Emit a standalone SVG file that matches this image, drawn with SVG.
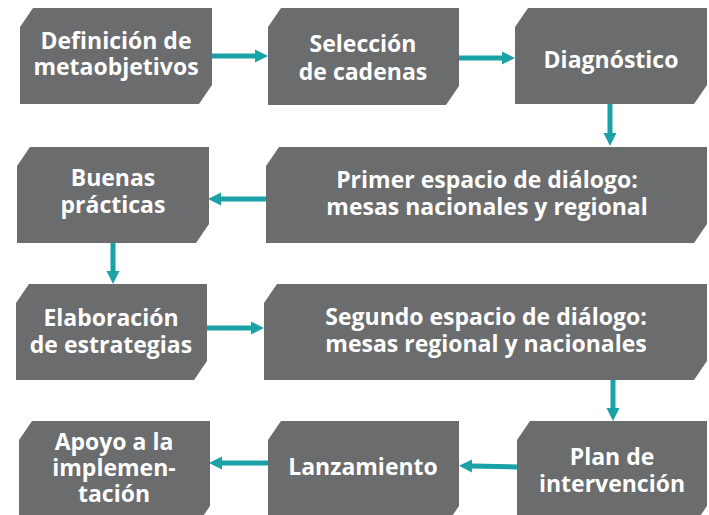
<svg xmlns="http://www.w3.org/2000/svg" width="709" height="515" viewBox="0 0 709 515">
<defs>
<style>
.box{fill:#6b6c6e}
.t{font-family:"Open Sans","Liberation Sans",sans-serif;font-weight:700;font-size:23px;fill:#ffffff;text-anchor:middle}
.c{stroke:#1ba2a6;stroke-width:5;fill:none;marker-end:url(#ah)}
</style>
<marker id="ah" markerUnits="userSpaceOnUse" markerWidth="14" markerHeight="14" viewBox="0 -7 14 14" refX="0" refY="0" orient="auto">
<path d="M0,-6.5 L13,0 L0,6.5 Z" fill="#1ba2a6"/>
</marker>
</defs>
<rect width="709" height="515" fill="#ffffff"/>
<g id="connectors">
<line class="c" x1="212" y1="56" x2="255" y2="56"/>
<line class="c" x1="459" y1="58" x2="502" y2="58"/>
<line class="c" x1="610" y1="104" x2="610" y2="133"/>
<line class="c" x1="266" y1="199" x2="221" y2="199"/>
<line class="c" x1="113" y1="243" x2="113" y2="271"/>
<line class="c" x1="207" y1="328" x2="251" y2="328"/>
<line class="c" x1="613" y1="380" x2="613" y2="408"/>
<line class="c" x1="517" y1="467" x2="472" y2="466"/>
<line class="c" x1="268" y1="463" x2="222" y2="463"/>
</g>
<g id="n1"><path class="box" d="M33,8 H212 V85 L199,104 H20 V27 Z"/>
<text class="t" x="116" y="49">Definición de</text><text class="t" x="116" y="75">metaobjetivos</text></g>
<g id="n2"><path class="box" d="M281,8 H459 V86 L446,105 H268 V27 Z"/>
<text class="t" x="363" y="52">Selección</text><text class="t" x="363" y="80">de cadenas</text></g>
<g id="n3"><path class="box" d="M528,8 H707 V85 L694,104 H515 V27 Z"/>
<text class="t" x="611" y="68">Diagnóstico</text></g>
<g id="n4"><path class="box" d="M30,147 H209 V224 L196,243 H17 V166 Z"/>
<text class="t" x="113" y="186">Buenas</text><text class="t" x="113" y="213">prácticas</text></g>
<g id="n5"><path class="box" d="M279,147 H707 V224 L694,243 H266 V166 Z"/>
<text class="t" x="487" y="188">Primer espacio de diálogo:</text><text class="t" x="487" y="215">mesas nacionales y regional</text></g>
<g id="n6"><path class="box" d="M29,284 H207 V361 L194,380 H16 V303 Z"/>
<text class="t" x="111" y="326">Elaboración</text><text class="t" x="111" y="353">de estrategias</text></g>
<g id="n7"><path class="box" d="M277,284 H707 V361 L694,380 H264 V303 Z"/>
<text class="t" x="486" y="325">Segundo espacio de diálogo:</text><text class="t" x="486" y="352">mesas regional y nacionales</text></g>
<g id="n8"><path class="box" d="M32,421 H210 V506 L197,525 H19 V440 Z"/>
<text class="t" x="114" y="450">Apoyo a la</text><text class="t" x="114" y="476">implemen-</text><text class="t" x="114" y="502">tación</text></g>
<g id="n9"><path class="box" d="M281,421 H459 V506 L446,525 H268 V440 Z"/>
<text class="t" x="363" y="475">Lanzamiento</text></g>
<g id="n10"><path class="box" d="M530,421 H707 V506 L694,525 H517 V440 Z"/>
<text class="t" x="612" y="465">Plan de</text><text class="t" x="612" y="492">intervención</text></g>
</svg>
